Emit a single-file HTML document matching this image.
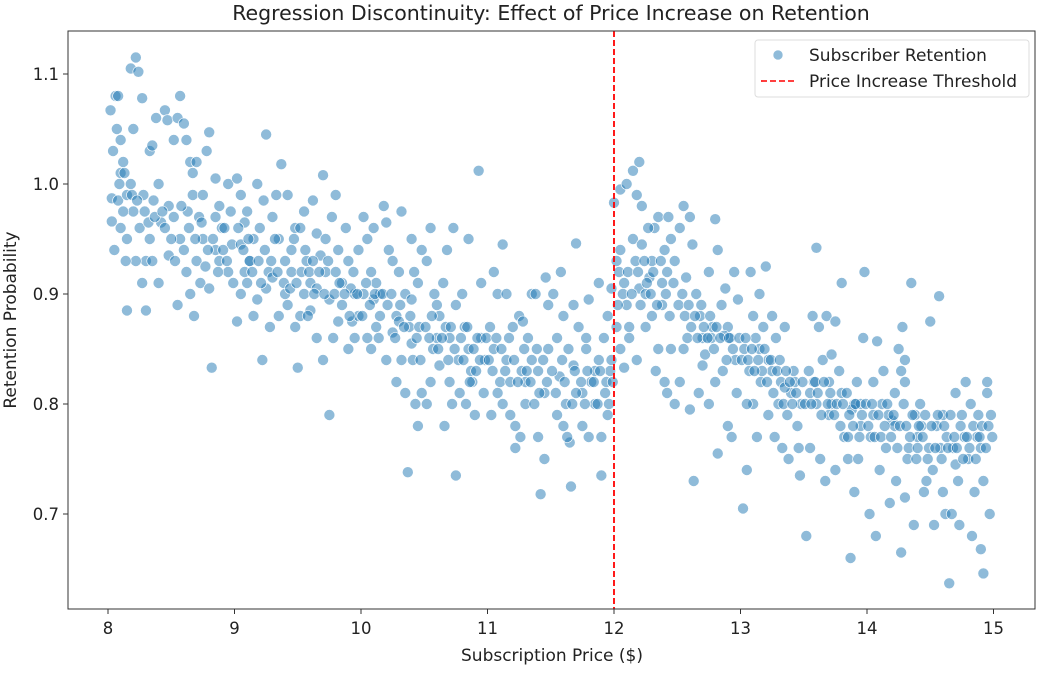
<!DOCTYPE html>
<html><head><meta charset="utf-8"><style>
body{margin:0;background:#fff;}
svg{display:block;font-family:"DejaVu Sans","Liberation Sans",sans-serif;}
</style></head><body>
<svg id="chart" width="1042" height="675" viewBox="0 0 1042 675">
<text x="551" y="20" text-anchor="middle" font-size="20.5" fill="#222">Regression Discontinuity: Effect of Price Increase on Retention</text>
<g id="marks"></g>
<g id="axes"></g>
<rect x="68" y="31" width="967" height="578" fill="none" stroke="#333" stroke-width="1"/>
<text x="552" y="661" text-anchor="middle" font-size="17" fill="#222">Subscription Price ($)</text>
<text transform="translate(16,320) rotate(-90)" text-anchor="middle" font-size="17" fill="#222">Retention Probability</text>
<g>
<rect x="755" y="40" width="274" height="57" rx="3" fill="#fff" fill-opacity="0.8" stroke="#ddd"/>
<circle cx="778" cy="55" r="5" fill="#1f77b4" fill-opacity="0.5" stroke="#fff" stroke-width="0.6"/>
<text x="809" y="61" font-size="17" fill="#222">Subscriber Retention</text>
<line x1="761" y1="81" x2="795" y2="81" stroke="#f00" stroke-width="1.6" stroke-dasharray="6,3"/>
<text x="809" y="87" font-size="17" fill="#222">Price Increase Threshold</text>
</g>
</svg>
<script>
const xTicks=[8,9,10,11,12,13,14,15];
const yTicks=[0.7,0.8,0.9,1.0,1.1];
const yTickLabels=["0.7","0.8","0.9","1.0","1.1"];
const threshold=12;
const band8=[[8.02,1.067],[8.04,1.03],[8.03,0.987],[8.03,0.966],[8.06,1.08],[8.08,1.08],[8.07,1.05],[8.1,1.04],[8.1,1.01],[8.12,1.02],[8.05,0.94],[8.08,0.985],[8.15,0.885],[8.15,0.99],[8.18,1.105],[8.2,1.05],[8.22,1.115],[8.24,1.102],[8.2,0.975],[8.25,0.96],[8.27,1.078],[8.28,0.99],[8.3,0.93],[8.33,1.03],[8.33,0.95],[8.35,1.035],[8.36,0.985],[8.38,1.06],[8.4,1.0],[8.42,0.965],[8.45,1.067],[8.47,1.058],[8.48,0.98],[8.12,0.975],[8.15,0.95],[8.18,1.0],[8.22,0.93],[8.27,0.91],[8.3,0.885],[8.35,0.93],[8.4,0.91],[8.45,0.96],[8.48,0.935],[8.1,0.96],[8.14,0.93]];
const band85=[[8.52,1.04],[8.55,1.06],[8.57,1.08],[8.6,1.055],[8.62,1.04],[8.65,1.02],[8.67,0.99],[8.7,1.02],[8.72,0.97],[8.75,0.95],[8.78,1.03],[8.8,1.047],[8.82,0.833],[8.85,1.005],[8.88,0.98],[8.9,0.96],[8.55,0.89],[8.6,0.94],[8.62,0.92],[8.65,0.9],[8.68,0.88],[8.7,0.93],[8.73,0.91],[8.77,0.925],[8.8,0.905],[8.85,0.94],[8.88,0.93],[8.92,0.96],[8.95,1.0],[8.52,0.97],[8.57,0.95],[8.63,0.975],[8.67,1.01],[8.75,0.99],[8.85,0.97],[8.95,0.92],[8.98,0.945],[8.97,0.975]];
const band9=[[9.02,1.005],[9.05,0.99],[9.05,0.945],[9.08,0.965],[9.1,0.975],[9.12,0.93],[9.15,0.95],[9.18,1.0],[9.2,0.96],[9.23,0.985],[9.25,1.045],[9.27,0.92],[9.3,0.97],[9.33,0.99],[9.35,0.95],[9.37,1.018],[9.4,0.93],[9.42,0.89],[9.45,0.94],[9.48,0.96],[9.05,0.9],[9.1,0.91],[9.15,0.88],[9.18,0.895],[9.22,0.84],[9.25,0.905],[9.28,0.87],[9.3,0.915],[9.35,0.88],[9.4,0.9],[9.45,0.92],[9.48,0.87],[9.02,0.875],[9.12,0.93],[9.32,0.95],[9.42,0.99],[9.47,0.95],[9.08,0.92]];
const band95=[[9.52,0.96],[9.55,0.975],[9.57,0.93],[9.6,0.91],[9.62,0.985],[9.65,0.955],[9.68,0.935],[9.7,1.008],[9.72,0.92],[9.75,0.895],[9.77,0.97],[9.8,0.99],[9.82,0.94],[9.85,0.91],[9.88,0.96],[9.9,0.93],[9.93,0.875],[9.95,0.9],[9.98,0.94],[9.5,0.833],[9.55,0.9],[9.6,0.885],[9.65,0.86],[9.7,0.84],[9.75,0.79],[9.78,0.86],[9.82,0.875],[9.85,0.89],[9.9,0.85],[9.95,0.86],[9.98,0.88],[9.52,0.88],[9.62,0.93],[9.72,0.95],[9.8,0.92],[9.92,0.905],[9.65,0.905],[9.58,0.88]];
const band10=[[10.02,0.97],[10.05,0.95],[10.08,0.92],[10.1,0.96],[10.12,0.91],[10.15,0.9],[10.18,0.98],[10.2,0.965],[10.22,0.94],[10.25,0.93],[10.28,0.88],[10.3,0.92],[10.32,0.975],[10.35,0.9],[10.38,0.87],[10.4,0.95],[10.42,0.92],[10.45,0.91],[10.48,0.94],[10.05,0.86],[10.08,0.85],[10.12,0.87],[10.15,0.88],[10.2,0.84],[10.25,0.865],[10.28,0.82],[10.32,0.84],[10.35,0.81],[10.37,0.738],[10.4,0.855],[10.43,0.8],[10.45,0.78],[10.48,0.81],[10.02,0.9],[10.1,0.895],[10.3,0.875],[10.4,0.895],[10.46,0.87]];
const band105=[[10.52,0.93],[10.55,0.96],[10.57,0.85],[10.6,0.89],[10.62,0.835],[10.65,0.91],[10.67,0.87],[10.7,0.86],[10.72,0.8],[10.75,0.735],[10.77,0.84],[10.8,0.9],[10.82,0.87],[10.85,0.85],[10.88,0.82],[10.9,0.79],[10.93,1.012],[10.95,0.86],[10.98,0.84],[10.52,0.8],[10.55,0.82],[10.58,0.9],[10.62,0.88],[10.66,0.78],[10.7,0.82],[10.75,0.89],[10.78,0.81],[10.83,0.8],[10.87,0.83],[10.92,0.86],[10.97,0.81],[10.6,0.86],[10.68,0.94],[10.73,0.96],[10.85,0.95],[10.95,0.91]];
const band11=[[11.02,0.87],[11.05,0.85],[11.08,0.9],[11.1,0.82],[11.12,0.945],[11.15,0.84],[11.18,0.82],[11.2,0.87],[11.22,0.78],[11.25,0.88],[11.27,0.83],[11.3,0.8],[11.32,0.86],[11.35,0.9],[11.37,0.8],[11.4,0.83],[11.42,0.718],[11.45,0.81],[11.48,0.85],[11.03,0.79],[11.08,0.81],[11.12,0.8],[11.18,0.79],[11.22,0.76],[11.26,0.77],[11.3,0.82],[11.35,0.84],[11.4,0.77],[11.45,0.75],[11.05,0.92],[11.15,0.9],[11.28,0.875],[11.38,0.9],[11.48,0.89],[11.46,0.915]];
const band115=[[11.52,0.9],[11.55,0.86],[11.57,0.825],[11.6,0.88],[11.62,0.8],[11.65,0.765],[11.68,0.835],[11.7,0.946],[11.72,0.87],[11.75,0.81],[11.78,0.85],[11.8,0.895],[11.82,0.82],[11.85,0.8],[11.88,0.84],[11.9,0.735],[11.92,0.86],[11.95,0.79],[11.98,0.84],[11.55,0.79],[11.6,0.78],[11.63,0.77],[11.66,0.725],[11.7,0.81],[11.75,0.78],[11.8,0.77],[11.85,0.83],[11.9,0.77],[11.95,0.88],[11.98,0.905],[11.58,0.92],[11.68,0.89],[11.78,0.86],[11.88,0.91],[11.93,0.81],[11.97,0.83]];
const band12=[[12.0,0.983],[12.05,0.995],[12.1,1.0],[12.15,1.012],[12.2,1.02],[12.18,0.99],[12.22,0.98],[12.02,0.93],[12.05,0.94],[12.08,0.91],[12.1,0.89],[12.12,0.87],[12.15,0.95],[12.17,0.93],[12.2,0.905],[12.22,0.945],[12.25,0.9],[12.28,0.915],[12.3,0.93],[12.32,0.96],[12.35,0.97],[12.38,0.89],[12.4,0.94],[12.42,0.92],[12.45,0.95],[12.48,0.93],[12.02,0.87],[12.05,0.85],[12.08,0.833],[12.12,0.86],[12.18,0.84],[12.25,0.87],[12.3,0.88],[12.35,0.85],[12.4,0.82],[12.45,0.85],[12.48,0.8],[12.03,0.89],[12.27,0.96],[12.38,0.91],[12.43,0.97],[12.33,0.83],[12.42,0.81]];
const band125=[[12.52,0.96],[12.55,0.98],[12.57,0.915],[12.6,0.97],[12.62,0.945],[12.65,0.9],[12.68,0.88],[12.7,0.86],[12.72,0.845],[12.75,0.92],[12.78,0.87],[12.8,0.968],[12.82,0.94],[12.85,0.89],[12.88,0.905],[12.9,0.87],[12.92,0.86],[12.95,0.92],[12.98,0.895],[12.52,0.82],[12.55,0.85],[12.6,0.795],[12.63,0.73],[12.67,0.81],[12.7,0.835],[12.75,0.8],[12.8,0.82],[12.82,0.755],[12.86,0.83],[12.9,0.78],[12.93,0.77],[12.97,0.81],[12.58,0.86],[12.77,0.86],[12.87,0.862],[12.96,0.84]];
const band13=[[13.02,0.705],[13.05,0.74],[13.08,0.92],[13.1,0.88],[13.12,0.86],[13.15,0.9],[13.18,0.87],[13.2,0.925],[13.22,0.84],[13.25,0.83],[13.28,0.86],[13.3,0.8],[13.32,0.82],[13.35,0.87],[13.38,0.75],[13.4,0.81],[13.42,0.83],[13.45,0.78],[13.48,0.8],[13.03,0.85],[13.07,0.83],[13.1,0.8],[13.13,0.77],[13.17,0.83],[13.22,0.79],[13.27,0.77],[13.33,0.76],[13.37,0.79],[13.43,0.82],[13.46,0.76],[13.05,0.8],[13.15,0.85],[13.25,0.88],[13.35,0.815],[13.47,0.735]];
const band135=[[13.52,0.68],[13.55,0.81],[13.57,0.88],[13.6,0.942],[13.62,0.87],[13.65,0.84],[13.68,0.88],[13.7,0.82],[13.72,0.8],[13.75,0.875],[13.78,0.83],[13.8,0.91],[13.82,0.77],[13.85,0.75],[13.87,0.66],[13.9,0.8],[13.92,0.82],[13.95,0.78],[13.98,0.92],[13.55,0.76],[13.58,0.82],[13.63,0.75],[13.67,0.73],[13.7,0.79],[13.75,0.74],[13.8,0.81],[13.85,0.77],[13.9,0.72],[13.95,0.8],[13.97,0.86],[13.6,0.8],[13.72,0.845],[13.88,0.795],[13.93,0.75]];
const band14=[[14.02,0.7],[14.05,0.82],[14.08,0.857],[14.1,0.74],[14.12,0.8],[14.15,0.76],[14.18,0.71],[14.2,0.785],[14.22,0.78],[14.25,0.85],[14.27,0.83],[14.28,0.87],[14.3,0.84],[14.32,0.75],[14.35,0.91],[14.38,0.79],[14.4,0.77],[14.42,0.8],[14.45,0.72],[14.48,0.75],[14.03,0.77],[14.07,0.68],[14.13,0.83],[14.17,0.79],[14.23,0.73],[14.27,0.665],[14.3,0.715],[14.33,0.76],[14.37,0.69],[14.43,0.78],[14.47,0.73],[14.05,0.79],[14.22,0.81],[14.3,0.82],[14.4,0.76]];
const band145=[[14.5,0.875],[14.52,0.74],[14.55,0.78],[14.57,0.898],[14.6,0.72],[14.62,0.7],[14.65,0.637],[14.68,0.76],[14.7,0.81],[14.72,0.73],[14.75,0.79],[14.78,0.82],[14.8,0.75],[14.82,0.8],[14.85,0.72],[14.88,0.79],[14.9,0.668],[14.92,0.646],[14.95,0.81],[14.98,0.79],[14.53,0.69],[14.58,0.76],[14.63,0.77],[14.67,0.7],[14.73,0.69],[14.77,0.77],[14.83,0.68],[14.87,0.77],[14.92,0.73],[14.95,0.82],[14.97,0.7],[14.9,0.76],[14.6,0.79],[14.7,0.745]];
const extraLeft=[[8.09,1.0],[8.13,1.01],[8.19,0.99],[8.23,0.985],[8.29,0.975],[8.32,0.965],[8.37,0.97],[8.43,0.975],[8.5,0.95],[8.53,0.93],[8.58,0.98],[8.64,0.96],[8.69,0.95],[8.74,0.965],[8.79,0.94],[8.83,0.95],[8.87,0.92],[8.91,0.94],[8.94,0.93],[8.99,0.91],[9.03,0.96],[9.07,0.94],[9.11,0.95],[9.14,0.92],[9.19,0.93],[9.21,0.91],[9.24,0.94],[9.29,0.93],[9.34,0.92],[9.39,0.91],[9.44,0.905],[9.49,0.91],[9.53,0.92],[9.56,0.94],[9.59,0.92],[9.63,0.9],[9.67,0.92],[9.71,0.9],[9.74,0.93],[9.79,0.9],[9.83,0.91],[9.87,0.9],[9.91,0.88],[9.94,0.92],[9.97,0.9],[10.01,0.88],[10.04,0.91],[10.07,0.89],[10.11,0.9],[10.14,0.86],[10.17,0.9],[10.21,0.89],[10.24,0.9],[10.27,0.86],[10.31,0.89],[10.34,0.87],[10.39,0.88],[10.41,0.84],[10.44,0.86],[10.47,0.84],[10.51,0.87],[10.54,0.86],[10.56,0.88],[10.61,0.85],[10.64,0.86],[10.69,0.84],[10.71,0.87],[10.74,0.85],[10.79,0.86],[10.81,0.84],[10.84,0.87],[10.86,0.82],[10.89,0.85],[10.91,0.83],[10.94,0.84],[10.99,0.86],[11.01,0.84],[11.04,0.83],[11.07,0.86],[11.11,0.85],[11.14,0.83],[11.17,0.86],[11.21,0.84],[11.24,0.82],[11.29,0.85],[11.31,0.83],[11.34,0.82],[11.39,0.85],[11.41,0.81],[11.44,0.84],[11.47,0.82],[11.51,0.83],[11.54,0.81],[11.59,0.84],[11.61,0.82],[11.64,0.85],[11.67,0.8],[11.69,0.83],[11.74,0.82],[11.77,0.8],[11.79,0.83],[11.84,0.82],[11.87,0.8],[11.89,0.83],[11.94,0.82],[11.96,0.8],[11.99,0.82]];
const extraRight=[[12.04,0.92],[12.07,0.9],[12.11,0.92],[12.14,0.9],[12.19,0.92],[12.21,0.89],[12.24,0.93],[12.26,0.91],[12.29,0.9],[12.31,0.92],[12.34,0.89],[12.37,0.93],[12.41,0.9],[12.44,0.88],[12.47,0.91],[12.51,0.89],[12.54,0.9],[12.56,0.88],[12.59,0.89],[12.61,0.87],[12.64,0.88],[12.66,0.86],[12.69,0.89],[12.71,0.87],[12.74,0.86],[12.76,0.88],[12.79,0.85],[12.81,0.87],[12.84,0.86],[12.89,0.84],[12.91,0.86],[12.94,0.85],[12.99,0.86],[13.01,0.84],[13.04,0.86],[13.06,0.84],[13.09,0.85],[13.11,0.83],[13.14,0.84],[13.16,0.82],[13.19,0.85],[13.21,0.82],[13.24,0.84],[13.26,0.81],[13.29,0.83],[13.31,0.84],[13.34,0.8],[13.36,0.83],[13.39,0.82],[13.41,0.8],[13.44,0.81],[13.49,0.82],[13.51,0.8],[13.54,0.83],[13.56,0.8],[13.59,0.82],[13.61,0.81],[13.64,0.79],[13.66,0.82],[13.69,0.8],[13.71,0.81],[13.74,0.79],[13.76,0.8],[13.79,0.78],[13.81,0.8],[13.84,0.81],[13.86,0.79],[13.89,0.78],[13.91,0.8],[13.94,0.77],[13.96,0.79],[13.99,0.8],[14.01,0.78],[14.04,0.8],[14.06,0.77],[14.09,0.79],[14.11,0.77],[14.14,0.78],[14.16,0.8],[14.19,0.77],[14.21,0.79],[14.24,0.76],[14.26,0.78],[14.29,0.8],[14.31,0.78],[14.34,0.77],[14.36,0.79],[14.39,0.75],[14.41,0.78],[14.44,0.77],[14.46,0.79],[14.49,0.76],[14.51,0.78],[14.54,0.76],[14.56,0.79],[14.59,0.75],[14.61,0.78],[14.64,0.76],[14.66,0.79],[14.69,0.77],[14.71,0.76],[14.74,0.78],[14.76,0.75],[14.79,0.77],[14.81,0.76],[14.84,0.78],[14.86,0.75],[14.89,0.77],[14.91,0.78],[14.94,0.76],[14.96,0.78],[14.99,0.77]];

const NS='http://www.w3.org/2000/svg';
function xScale(v){return 108+(v-8)*126.5;}
function yScale(v){return 74+(1.1-v)*1100;}
const marks=document.getElementById('marks');
const axes=document.getElementById('axes');
const all=[].concat(band8,band85,band9,band95,band10,band105,band11,band115,band12,band125,band13,band135,band14,band145,extraLeft,extraRight);
all.forEach(function(p){
  const c=document.createElementNS(NS,'circle');
  c.setAttribute('cx',xScale(p[0]));
  c.setAttribute('cy',yScale(p[1]));
  c.setAttribute('r',5.5);
  c.setAttribute('fill','#1f77b4');
  c.setAttribute('fill-opacity','0.5');
  c.setAttribute('stroke','#fff');
  c.setAttribute('stroke-width','0.6');
  
  
  marks.appendChild(c);
});
const tl=document.createElementNS(NS,'line');
tl.setAttribute('x1',xScale(threshold));tl.setAttribute('x2',xScale(threshold));
tl.setAttribute('y1',31);tl.setAttribute('y2',609);
tl.setAttribute('stroke','#f00');tl.setAttribute('stroke-width','1.8');tl.setAttribute('stroke-dasharray','6,3');


marks.appendChild(tl);
xTicks.forEach(function(t){
  const x=xScale(t);
  const l=document.createElementNS(NS,'line');
  l.setAttribute('x1',x);l.setAttribute('x2',x);l.setAttribute('y1',609);l.setAttribute('y2',614);l.setAttribute('stroke','#333');
  
  
  axes.appendChild(l);
  const tx=document.createElementNS(NS,'text');
  tx.setAttribute('x',x);tx.setAttribute('y',634);tx.setAttribute('text-anchor','middle');tx.setAttribute('font-size','16.5');tx.setAttribute('fill','#222');
  tx.textContent=String(t);
  
  
  axes.appendChild(tx);
});
yTicks.forEach(function(t,i){
  const y=yScale(t);
  const l=document.createElementNS(NS,'line');
  l.setAttribute('x1',63);l.setAttribute('x2',68);l.setAttribute('y1',y);l.setAttribute('y2',y);l.setAttribute('stroke','#333');
  
  
  axes.appendChild(l);
  const tx=document.createElementNS(NS,'text');
  tx.setAttribute('x',59);tx.setAttribute('y',y+6);tx.setAttribute('text-anchor','end');tx.setAttribute('font-size','16.5');tx.setAttribute('fill','#222');
  tx.textContent=yTickLabels[i];
  
  
  axes.appendChild(tx);
});
</script>
</body></html>
